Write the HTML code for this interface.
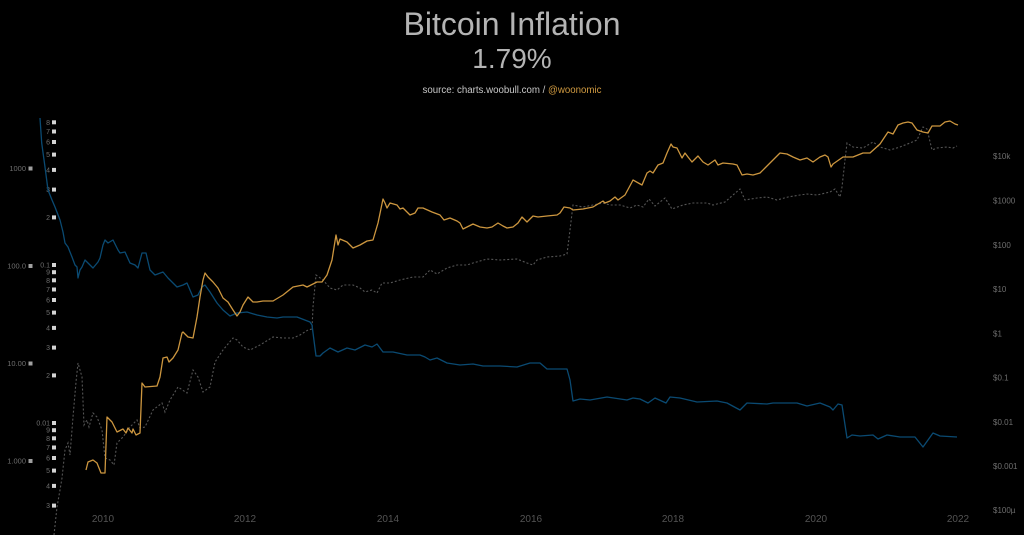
<!DOCTYPE html>
<html><head><meta charset="utf-8"><style>
html,body{margin:0;padding:0;background:#000;}
svg{display:block;}
text{font-family:"Liberation Sans",sans-serif;}
</style></head><body>
<svg width="1024" height="535" viewBox="0 0 1024 535" xmlns="http://www.w3.org/2000/svg">
<rect width="1024" height="535" fill="#000"/>
<text x="512" y="35" text-anchor="middle" font-size="32" fill="#b4b4b4">Bitcoin Inflation</text>
<text x="512" y="68" text-anchor="middle" font-size="28" fill="#b4b4b4">1.79%</text>
<text x="512" y="93" text-anchor="middle" font-size="9.7" fill="#c8c8c8">source: charts.woobull.com / <tspan fill="#d09a40">@woonomic</tspan></text>

<!-- left axis -->
<g font-size="7.5" fill="#6e6e6e" text-anchor="end">
<text x="26" y="171">1000</text>
<text x="26" y="268.5">100.0</text>
<text x="26" y="366">10.00</text>
<text x="26" y="463.5">1.000</text>
</g>
<g fill="#a0a0a0">
<rect x="28.5" y="166.5" width="4" height="4"/>
<rect x="28.5" y="264" width="4" height="4"/>
<rect x="28.5" y="361.5" width="4" height="4"/>
<rect x="28.5" y="459" width="4" height="4"/>
</g>

<!-- mini axis -->
<g font-size="7" fill="#6e6e6e" text-anchor="end">
<text x="50" y="124.8">8</text><text x="50" y="134">7</text><text x="50" y="144.5">6</text><text x="50" y="157">5</text><text x="50" y="172.4">4</text><text x="50" y="192">3</text><text x="50" y="220">2</text>
<text x="50" y="267.5">0.1</text>
<text x="50" y="274.7">9</text><text x="50" y="282.8">8</text><text x="50" y="292">7</text><text x="50" y="302.5">6</text><text x="50" y="315">5</text><text x="50" y="330.4">4</text><text x="50" y="350">3</text><text x="50" y="378">2</text>
<text x="50" y="425.5">0.01</text>
<text x="50" y="432.7">9</text><text x="50" y="440.8">8</text><text x="50" y="450">7</text><text x="50" y="460.5">6</text><text x="50" y="473">5</text><text x="50" y="488.4">4</text><text x="50" y="508">3</text>
</g>
<g fill="#d4d4d4">
<rect x="52" y="120.3" width="4" height="4"/><rect x="52" y="129.5" width="4" height="4"/><rect x="52" y="140" width="4" height="4"/><rect x="52" y="152.6" width="4" height="4"/><rect x="52" y="167.9" width="4" height="4"/><rect x="52" y="187.6" width="4" height="4"/><rect x="52" y="215.4" width="4" height="4"/>
<rect x="52" y="263" width="4" height="4"/>
<rect x="52" y="270.2" width="4" height="4"/><rect x="52" y="278.3" width="4" height="4"/><rect x="52" y="287.5" width="4" height="4"/><rect x="52" y="298" width="4" height="4"/><rect x="52" y="310.6" width="4" height="4"/><rect x="52" y="325.9" width="4" height="4"/><rect x="52" y="345.6" width="4" height="4"/><rect x="52" y="373.4" width="4" height="4"/>
<rect x="52" y="421" width="4" height="4"/>
<rect x="52" y="428.2" width="4" height="4"/><rect x="52" y="436.3" width="4" height="4"/><rect x="52" y="445.5" width="4" height="4"/><rect x="52" y="456" width="4" height="4"/><rect x="52" y="468.6" width="4" height="4"/><rect x="52" y="483.9" width="4" height="4"/><rect x="52" y="503.6" width="4" height="4"/>
</g>

<!-- right axis -->
<g font-size="8" fill="#6e6e6e">
<text x="993" y="159">$10k</text>
<text x="993" y="203.5">$1000</text>
<text x="993" y="248">$100</text>
<text x="993" y="292">$10</text>
<text x="993" y="336.5">$1</text>
<text x="993" y="380.5">$0.1</text>
<text x="993" y="425">$0.01</text>
<text x="993" y="469">$0.001</text>
<text x="993" y="513">$100µ</text>
</g>

<!-- x axis -->
<g font-size="10" fill="#545454" text-anchor="middle">
<text x="103" y="522">2010</text>
<text x="245" y="522">2012</text>
<text x="388" y="522">2014</text>
<text x="531" y="522">2016</text>
<text x="673" y="522">2018</text>
<text x="816" y="522">2020</text>
<text x="958" y="522">2022</text>
</g>

<!-- dotted series -->
<polyline fill="none" stroke="#555" stroke-width="1.1" stroke-dasharray="2,2" points="54,535 57,507 60,490 62,478 65,450 68,443 70,455 73,417 76,382 78,363 82,377 84,425 87,420 89,427 93,413 97,417 102,430 105,458 110,460 114,465 117,443 123,437 130,427 137,420 140,428 145,427 153,410 162,403 165,412 170,400 178,387 187,393 193,370 198,377 203,392 210,387 215,362 223,350 233,338 237,340 243,347 250,350 260,345 273,337 283,338 293,338 300,335 308,330 312,329 313,307 316,275 323,280 330,288 337,290 343,285 353,285 360,288 365,292 372,290 377,293 382,283 390,283 400,280 413,277 423,277 430,270 437,274 447,268 457,265 467,265 473,263 487,259 500,260 517,259 527,263 533,265 537,260 547,257 560,256 567,254 570,230 573,205 583,207 593,205 603,203 610,205 620,205 630,208 637,205 643,207 649,199 655,206 665,198 672,209 683,205 693,203 707,203 713,205 725,202 733,195 740,189 745,200 757,198 767,197 777,200 788,197 800,195 807,194 817,195 830,192 835,189 840,197 842,187 845,160 847,143 853,147 863,148 873,142 880,147 890,150 900,147 910,143 917,140 923,127 927,129 932,150 937,148 947,147 953,148 957,146"/>

<!-- blue inflation -->
<polyline fill="none" stroke="#0a4a72" stroke-width="1.3" stroke-linejoin="round" points="40,118 41.7,143 45,167 48,190 52,200 55,207 60,220 63,232 65,243 68,247 72,257 75,265 77,267 78,278 80,270 82,267 85,260 88,263 90,265 93,268 98,262 100,258 103,245 105,240 108,243 113,240 118,250 120,253 125,252 130,263 135,265 138,268 142,253 146,253 150,270 155,275 163,272 168,278 177,287 183,285 187,283 193,297 198,295 202,287 205,285 210,292 217,303 223,310 230,316 237,313 247,312 257,315 267,317 277,318 283,317 297,317 310,322 312,325 316,356 320,356 323,353 330,348 338,352 347,348 355,350 365,345 372,347 377,344 383,352 393,352 407,355 420,355 425,357 430,360 437,358 447,363 460,365 473,364 483,366 500,366 517,367 530,363 540,363 547,369 560,369 567,369 570,380 573,401 580,399 590,400 607,397 627,400 633,398 640,399 648,403 655,398 666,403 670,397 680,398 697,402 717,401 727,403 740,410 747,403 767,404 773,403 783,403 797,403 807,406 820,403 830,407 833,410 838,404 842,405 847,438 852,435 860,436 873,435 878,439 887,435 900,437 910,437 915,437 923,447 933,433 940,436 957,437"/>

<!-- orange price -->
<polyline fill="none" stroke="#cc963f" stroke-width="1.3" stroke-linejoin="round" points="86,470 88,462 93,460 97,463 101,473 105,473 107,417 112,422 117,432 123,429 126,433 128,428 132,433 133,429 136,435 140,433 142,383 145,387 157,386 160,377 163,358 167,357 169,362 173,358 178,350 182,333 183,332 188,337 193,338 197,317 200,297 203,280 205,273 208,277 213,282 218,288 223,298 228,302 233,310 237,316 240,312 243,305 248,297 253,302 257,302 263,301 273,301 283,295 293,287 303,285 307,287 317,282 322,282 327,275 332,260 336,235 338,245 340,239 347,242 353,248 360,245 367,241 373,240 378,223 383,199 385,203 387,208 390,203 397,205 400,209 403,208 410,215 415,213 418,208 423,208 432,212 440,215 444,220 450,218 457,221 460,223 463,229 467,227 473,224 480,227 487,228 492,227 498,223 503,226 507,228 513,227 518,223 522,217 527,222 533,216 538,217 547,216 557,215 560,213 564,207 570,208 573,210 583,209 593,207 603,201 605,203 610,201 615,197 618,200 625,195 632,182 633,180 642,185 647,173 650,171 653,173 658,165 663,163 667,153 671,144 673,147 677,148 682,158 685,153 688,157 692,162 698,156 703,162 708,165 715,160 718,165 723,163 733,164 737,165 742,175 747,174 753,175 760,173 765,168 773,160 780,153 787,154 793,157 800,160 807,158 813,162 820,157 825,155 828,157 831,167 833,164 843,157 853,157 863,153 870,153 880,144 888,132 893,134 898,125 903,123 908,122 912,123 917,130 923,132 928,133 932,126 940,126 945,122 950,121 955,124 958,125"/>
</svg>
</body></html>
